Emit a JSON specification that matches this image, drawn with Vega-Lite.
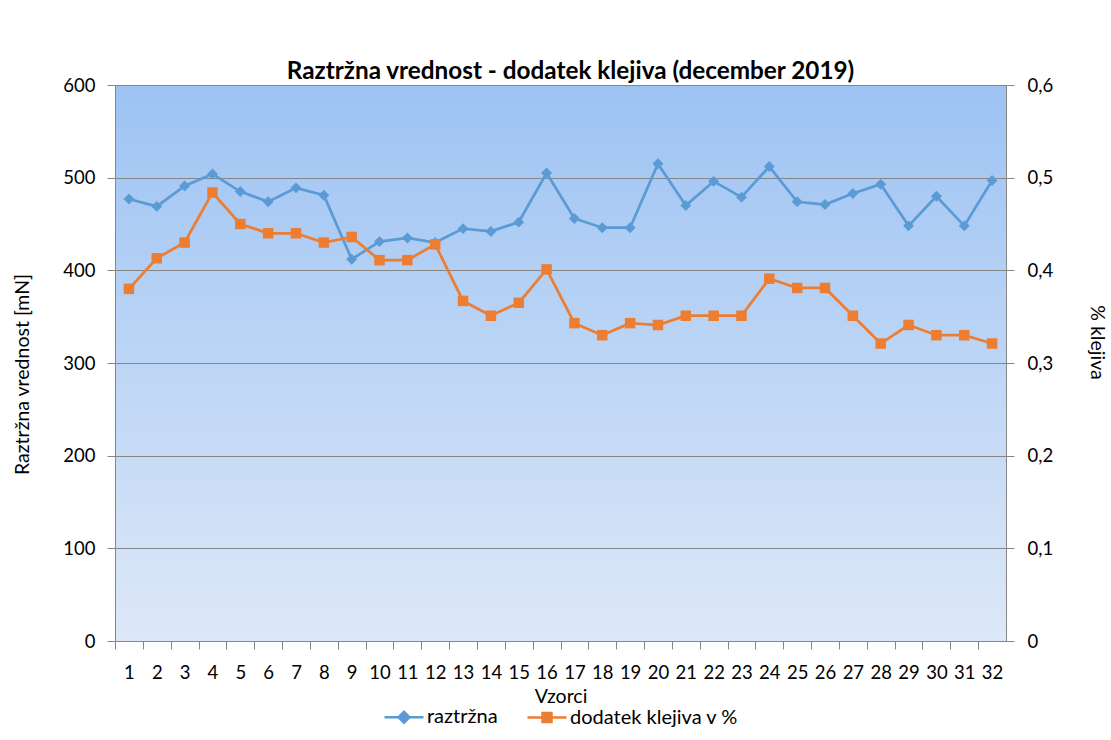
{
  "$schema": "https://vega.github.io/schema/vega-lite/v6.json",
  "width": 891,
  "height": 556,
  "autosize": {"type": "none"},
  "padding": {"left": 115, "top": 85, "right": 105, "bottom": 99},
  "background": "white",
  "title": {
    "text": "Raztržna vrednost - dodatek klejiva (december 2019)",
    "fontSize": 24.3,
    "fontWeight": "bold",
    "font": "Lato",
    "color": "#000000",
    "anchor": "middle",
    "offset": -8,
    "dx": 10
  },
  "data": {
    "values": [
      {"n": 1, "raztrzna": 477, "klejivo": 0.38},
      {"n": 2, "raztrzna": 469, "klejivo": 0.413},
      {"n": 3, "raztrzna": 491, "klejivo": 0.43},
      {"n": 4, "raztrzna": 504, "klejivo": 0.484},
      {"n": 5, "raztrzna": 485, "klejivo": 0.45},
      {"n": 6, "raztrzna": 474, "klejivo": 0.44},
      {"n": 7, "raztrzna": 489, "klejivo": 0.44},
      {"n": 8, "raztrzna": 481, "klejivo": 0.43},
      {"n": 9, "raztrzna": 412, "klejivo": 0.436},
      {"n": 10, "raztrzna": 431, "klejivo": 0.411},
      {"n": 11, "raztrzna": 435, "klejivo": 0.411},
      {"n": 12, "raztrzna": 430, "klejivo": 0.428},
      {"n": 13, "raztrzna": 445, "klejivo": 0.367},
      {"n": 14, "raztrzna": 442, "klejivo": 0.351},
      {"n": 15, "raztrzna": 452, "klejivo": 0.365},
      {"n": 16, "raztrzna": 505, "klejivo": 0.401},
      {"n": 17, "raztrzna": 456, "klejivo": 0.343},
      {"n": 18, "raztrzna": 446, "klejivo": 0.33},
      {"n": 19, "raztrzna": 446, "klejivo": 0.343},
      {"n": 20, "raztrzna": 515, "klejivo": 0.341},
      {"n": 21, "raztrzna": 470, "klejivo": 0.351},
      {"n": 22, "raztrzna": 496, "klejivo": 0.351},
      {"n": 23, "raztrzna": 479, "klejivo": 0.351},
      {"n": 24, "raztrzna": 512, "klejivo": 0.391},
      {"n": 25, "raztrzna": 474, "klejivo": 0.381},
      {"n": 26, "raztrzna": 471, "klejivo": 0.381},
      {"n": 27, "raztrzna": 483, "klejivo": 0.351},
      {"n": 28, "raztrzna": 493, "klejivo": 0.321},
      {"n": 29, "raztrzna": 448, "klejivo": 0.341},
      {"n": 30, "raztrzna": 480, "klejivo": 0.33},
      {"n": 31, "raztrzna": 448, "klejivo": 0.33},
      {"n": 32, "raztrzna": 497, "klejivo": 0.321}
    ]
  },
  "layer": [
    {
      "mark": {
        "type": "line",
        "strokeWidth": 2.75,
        "point": {"shape": "diamond", "size": 120, "filled": true, "opacity": 1}
      },
      "encoding": {
        "x": {
          "field": "n",
          "type": "ordinal",
          "scale": {"type": "point", "padding": 0.5},
          "axis": {
            "title": "Vzorci",
            "labelAngle": 0,
            "tickSize": 8,
            "tickOffset": -13.92,
            "labelOffset": 13.92,
            "labelPadding": 14,
            "titleY": 55,
            "titleBaseline": "middle",
            "grid": false
          }
        },
        "y": {
          "field": "raztrzna",
          "type": "quantitative",
          "scale": {"domain": [0, 600], "nice": false},
          "axis": {
            "title": "Raztržna vrednost [mN]",
            "values": [0, 100, 200, 300, 400, 500, 600],
            "tickSize": 8,
            "labelPadding": 12,
            "grid": true,
            "titleX": -93,
            "titleY": 289,
            "titleBaseline": "middle"
          }
        },
        "color": {
          "datum": "raztržna",
          "type": "nominal",
          "scale": {"domain": ["raztržna", "dodatek klejiva v %"], "range": ["#5B9BD5", "#ED7D31"]},
          "legend": {
            "title": null,
            "orient": "none",
            "legendX": 268,
            "legendY": 611,
            "padding": 0,
            "direction": "horizontal",
            "symbolSize": 1521,
            "symbolStrokeWidth": 2.5,
            "labelFontSize": 20,
            "labelColor": "#000000",
            "labelOffset": 2,
            "labelLimit": 400,
            "columnPadding": 24,
            "encode": {
              "symbols": {
                "update": {
                  "shape": {"signal": "datum.value === 'raztržna' ? 'M-1,0L1,0M0,-0.28L0.28,0L0,0.28L-0.28,0Z' : 'M-1,0L1,0M-0.23,-0.23L0.23,-0.23L0.23,0.23L-0.23,0.23Z'"},
                  "fill": {"signal": "datum.value === 'raztržna' ? '#5B9BD5' : '#ED7D31'"},
                  "stroke": {"signal": "datum.value === 'raztržna' ? '#5B9BD5' : '#ED7D31'"},
                  "opacity": {"value": 1}
                }
              }
            }
          }
        }
      }
    },
    {
      "mark": {
        "type": "line",
        "strokeWidth": 2.75,
        "point": {"shape": "square", "size": 110, "filled": true, "opacity": 1}
      },
      "encoding": {
        "x": {"field": "n", "type": "ordinal"},
        "y": {
          "field": "klejivo",
          "type": "quantitative",
          "scale": {"domain": [0, 0.6], "nice": false},
          "axis": {
            "orient": "right",
            "title": "% klejiva",
            "values": [0, 0.1, 0.2, 0.3, 0.4, 0.5, 0.6],
            "labelExpr": "replace(format(datum.value, '.1~f'), '.', ',')",
            "tickSize": 8,
            "labelPadding": 13,
            "grid": false,
            "titleAngle": 90,
            "titleX": 90,
            "titleY": 257,
            "titleBaseline": "middle"
          }
        },
        "color": {"datum": "dodatek klejiva v %", "type": "nominal"}
      }
    }
  ],
  "resolve": {"scale": {"y": "independent"}},
  "config": {
    "font": "Lato",
    "view": {
      "stroke": null,
      "fill": {
        "gradient": "linear",
        "x1": 0, "y1": 0, "x2": 0, "y2": 1,
        "stops": [
          {"offset": 0, "color": "#9DC3F3"},
          {"offset": 1, "color": "#DDE8F8"}
        ]
      }
    },
    "axis": {
      "domainColor": "#868686",
      "tickColor": "#868686",
      "gridColor": "#868686",
      "gridWidth": 1,
      "domainWidth": 1,
      "labelFontSize": 18.5,
      "labelColor": "#000000",
      "titleFontSize": 19.5,
      "titleFontWeight": "normal",
      "titleColor": "#000000",
      "labelFont": "Lato",
      "titleFont": "Lato"
    }
  }
}
